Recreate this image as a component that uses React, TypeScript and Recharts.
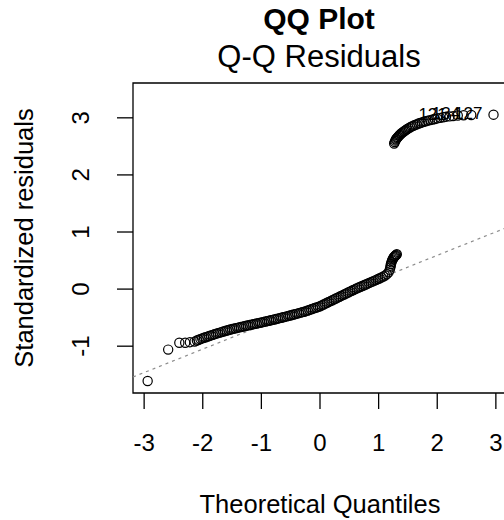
import React from "react";
import {
  ScatterChart,
  Scatter,
  XAxis,
  YAxis,
  ReferenceArea,
  ReferenceLine,
  Label,
} from "recharts";

const FONT = "'Liberation Sans', Arial, sans-serif";

// tick values
const xTicks = [-3, -2, -1, 0, 1, 2, 3];
const yTicks = [-1, 0, 1, 2, 3];

// isolated points in the left tail
const tailX = [-2.94, -2.59, -2.4, -2.3, -2.22, -2.14];
const tailY = [-1.61, -1.06, -0.94, -0.94, -0.93, -0.92];

// lower branch (dense band)
const lowerX = [
  -2.1, -2.07, -2.04, -2.01, -1.98, -1.95, -1.92, -1.89, -1.86, -1.83, -1.8,
  -1.77, -1.74, -1.71, -1.68, -1.65, -1.62, -1.59, -1.56, -1.53, -1.5, -1.47,
  -1.44, -1.41, -1.38, -1.35, -1.32, -1.29, -1.26, -1.23, -1.2, -1.17, -1.14,
  -1.11, -1.08, -1.05, -1.02, -0.99, -0.96, -0.93, -0.9, -0.87, -0.84, -0.81,
  -0.78, -0.75, -0.72, -0.69, -0.66, -0.63, -0.6, -0.57, -0.54, -0.51, -0.48,
  -0.45, -0.42, -0.39, -0.36, -0.33, -0.3, -0.27, -0.24, -0.21, -0.18, -0.15,
  -0.12, -0.09, -0.06, -0.03, 0.0, 0.03, 0.06, 0.09, 0.12, 0.15, 0.18, 0.21,
  0.24, 0.27, 0.3, 0.33, 0.36, 0.39, 0.42, 0.45, 0.48, 0.51, 0.54, 0.57, 0.6,
  0.63, 0.66, 0.69, 0.72, 0.75, 0.78, 0.81, 0.84, 0.87, 0.9, 0.93, 0.96, 0.99,
  1.02, 1.05, 1.08, 1.11, 1.14, 1.17, 1.19, 1.2, 1.205, 1.21, 1.22, 1.23, 1.24,
  1.25, 1.26, 1.27, 1.28, 1.29, 1.3, 1.31,
];
const lowerY = [
  -0.9, -0.888, -0.876, -0.864, -0.853, -0.843, -0.832, -0.822, -0.811, -0.801,
  -0.79, -0.781, -0.772, -0.762, -0.753, -0.744, -0.735, -0.725, -0.716, -0.708,
  -0.7, -0.693, -0.686, -0.679, -0.671, -0.664, -0.657, -0.65, -0.642, -0.636,
  -0.629, -0.623, -0.616, -0.609, -0.603, -0.596, -0.589, -0.583, -0.575,
  -0.568, -0.561, -0.554, -0.547, -0.539, -0.532, -0.525, -0.517, -0.509,
  -0.502, -0.494, -0.486, -0.478, -0.47, -0.463, -0.454, -0.446, -0.438,
  -0.429, -0.421, -0.412, -0.404, -0.396, -0.386, -0.376, -0.365, -0.354,
  -0.343, -0.332, -0.322, -0.311, -0.3, -0.285, -0.27, -0.255, -0.24, -0.225,
  -0.21, -0.195, -0.18, -0.165, -0.15, -0.135, -0.12, -0.105, -0.09, -0.075,
  -0.06, -0.045, -0.03, -0.015, 0.0, 0.014, 0.027, 0.041, 0.054, 0.068, 0.081,
  0.095, 0.108, 0.122, 0.135, 0.149, 0.162, 0.176, 0.19, 0.205, 0.22, 0.236,
  0.262, 0.293, 0.34, 0.38, 0.41, 0.44, 0.47, 0.5, 0.52, 0.54, 0.56, 0.57,
  0.58, 0.59, 0.6, 0.61,
];

// upper branch
const upperX = [
  1.265, 1.275, 1.285, 1.295, 1.305, 1.315, 1.33, 1.345, 1.36, 1.375, 1.39,
  1.41, 1.43, 1.45, 1.47, 1.49, 1.515, 1.54, 1.565, 1.59, 1.62, 1.65, 1.68,
  1.71, 1.74, 1.77, 1.8, 1.84, 1.88, 1.92, 1.96, 2.0, 2.05, 2.1, 2.15, 2.21,
  2.27, 2.35, 2.45, 2.58, 2.96,
];
const upperY = [
  2.55, 2.575, 2.6, 2.62, 2.635, 2.65, 2.665, 2.685, 2.7, 2.715, 2.73, 2.745,
  2.76, 2.775, 2.79, 2.805, 2.82, 2.835, 2.85, 2.86, 2.875, 2.885, 2.9, 2.91,
  2.92, 2.93, 2.94, 2.95, 2.96, 2.97, 2.98, 2.99, 3.0, 3.01, 3.02, 3.025, 3.03,
  3.04, 3.045, 3.05, 3.055,
];

// labelled observations (three largest residuals)
const idLabels = ["121", "134", "127"];
const idX = [2.35, 2.58, 2.96];
const idY = [3.04, 3.05, 3.055];

// qq reference line end points
const qqLine = [
  { x: -3.19, y: -1.54 },
  { x: 3.19, y: 1.08 },
];

const zip = (xs: number[], ys: number[]) => xs.map((x, i) => ({ x, y: ys[i] }));

const points = [
  ...zip(tailX, tailY),
  ...zip(lowerX, lowerY),
  ...zip(upperX, upperY),
];
const labelled = idX.map((x, i) => ({ x, y: idY[i], id: idLabels[i] }));

const Ring = (props: any) => (
  <circle
    cx={props.cx}
    cy={props.cy}
    r={4.6}
    fill="none"
    stroke="#000"
    strokeWidth={1.2}
  />
);

const IdText = (props: any) => (
  <text
    x={props.cx - 11}
    y={props.cy + 4}
    textAnchor="end"
    fontSize={17}
    fontFamily={FONT}
    fill="#000"
  >
    {props.payload.id}
  </text>
);

const XTick = (props: any) => (
  <text
    x={props.x}
    y={451}
    textAnchor="middle"
    fontSize={24}
    fontFamily={FONT}
    fill="#000"
  >
    {props.payload.value}
  </text>
);

const YTick = (props: any) => (
  <text
    x={89}
    y={props.y}
    transform={`rotate(-90, 89, ${props.y})`}
    textAnchor="middle"
    fontSize={24}
    fontFamily={FONT}
    fill="#000"
  >
    {props.payload.value}
  </text>
);

export default function App() {
  return (
    <div
      style={{
        position: "absolute",
        left: 0,
        top: 0,
        width: 504,
        height: 520,
        overflow: "hidden",
        background: "#fff",
      }}
    >
      <ScatterChart
        width={512}
        height={520}
        margin={{ top: 83, right: 5, bottom: 0, left: 0 }}
      >
        <XAxis
          type="number"
          dataKey="x"
          domain={[-3.19, 3.19]}
          ticks={xTicks}
          interval={0}
          allowDataOverflow
          height={127}
          axisLine={false}
          tickLine={{ stroke: "#000", strokeWidth: 1.3 }}
          tickSize={16}
          tick={<XTick />}
        >
          <Label
            content={() => (
              <text
                x={320}
                y={513}
                textAnchor="middle"
                fontSize={25.5}
                fontFamily={FONT}
                fill="#000"
              >
                Theoretical Quantiles
              </text>
            )}
          />
        </XAxis>
        <YAxis
          type="number"
          dataKey="y"
          domain={[-1.82, 3.61]}
          ticks={yTicks}
          interval={0}
          allowDataOverflow
          width={133}
          axisLine={false}
          tickLine={{ stroke: "#000", strokeWidth: 1.3 }}
          tickSize={16}
          tick={<YTick />}
        >
          <Label
            content={() => (
              <text
                x={33}
                y={238}
                transform="rotate(-90, 33, 238)"
                textAnchor="middle"
                fontSize={25.5}
                fontFamily={FONT}
                fill="#000"
              >
                Standardized residuals
              </text>
            )}
          />
        </YAxis>
        <ReferenceArea
          x1={-3.19}
          x2={3.19}
          y1={-1.82}
          y2={3.61}
          fill="none"
          fillOpacity={0}
          stroke="#000"
          strokeWidth={1.3}
        />
        <ReferenceLine
          segment={qqLine}
          stroke="#8c8c8c"
          strokeWidth={1.2}
          strokeDasharray="3 4"
        />
        <Scatter data={points} shape={Ring} isAnimationActive={false} />
        <Scatter data={labelled} shape={IdText} isAnimationActive={false} />
      </ScatterChart>
      <svg
        width={504}
        height={520}
        style={{ position: "absolute", left: 0, top: 0, pointerEvents: "none" }}
      >
        <text
          x={319}
          y={29}
          textAnchor="middle"
          fontSize={30}
          fontWeight="bold"
          fontFamily={FONT}
          fill="#000"
        >
          QQ Plot
        </text>
        <text
          x={319}
          y={67}
          textAnchor="middle"
          fontSize={31}
          fontFamily={FONT}
          fill="#000"
        >
          Q-Q Residuals
        </text>
      </svg>
    </div>
  );
}
